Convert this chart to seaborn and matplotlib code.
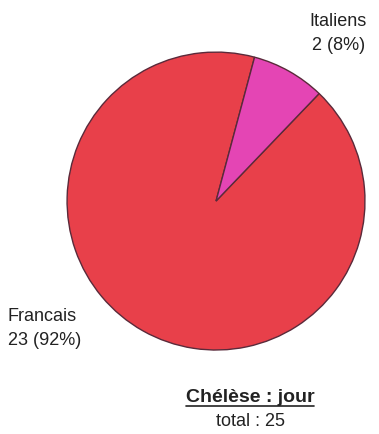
import seaborn as sns
import matplotlib.pyplot as plt
from matplotlib.lines import Line2D

sns.set_style("white")
plt.rcParams['font.family'] = ['Liberation Sans', 'DejaVu Sans']

# data
labels = ["Francais", "Italiens"]
counts = [23, 2]
colors = ["#e8404a", "#e445b4"]
total = sum(counts)

fig = plt.figure(figsize=(3.79, 4.35), dpi=100)
ax = fig.add_axes([0.177, 0.193, 0.786, 0.685])
wedges, _ = ax.pie(counts, colors=colors, startangle=75, counterclock=True,
                   wedgeprops=dict(edgecolor="#5a2a3a", linewidth=1.0))
for w in wedges:
    w.set_clip_on(False)
ax.set_xlim(-1, 1)
ax.set_ylim(-1, 1)
ax.set_aspect("equal")

ax.text(-1.40, -0.85, f"{labels[0]}\n{counts[0]} ({counts[0] / total:.0%})",
        ha="left", va="center", fontsize=13, color="#222222", linespacing=1.5)
ax.text(0.82, 1.13, f"{labels[1]}\n{counts[1]} ({counts[1] / total:.0%})",
        ha="center", va="center", fontsize=13, color="#222222", linespacing=1.5)

t = fig.text(0.66, 0.087, "Chélèse : jour", ha="center", va="center",
             fontsize=14, fontweight="bold", color="#222222")
fig.text(0.66, 0.03, "total : 25", ha="center", va="center",
         fontsize=13, color="#222222")

fig.canvas.draw()
bb = t.get_window_extent().transformed(fig.transFigure.inverted())
fig.add_artist(Line2D([bb.x0, bb.x1], [bb.y0 - 0.002, bb.y0 - 0.002],
                      transform=fig.transFigure, color="#222222", linewidth=1.2))

fig.savefig("out.png", dpi=100)
